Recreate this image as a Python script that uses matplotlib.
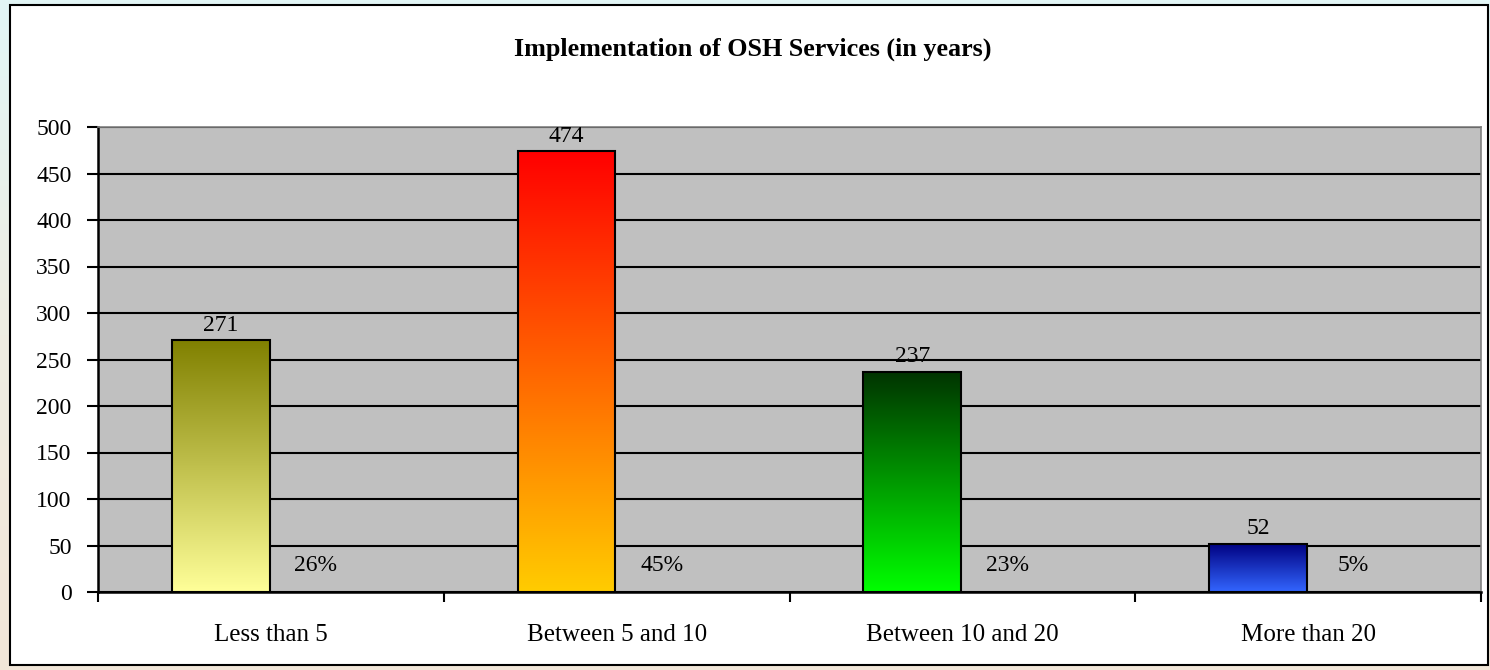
import numpy as np
import matplotlib
matplotlib.use("Agg")
import matplotlib.pyplot as plt
from matplotlib.colors import LinearSegmentedColormap
from matplotlib.patches import Rectangle

categories = ["Less than 5", "Between 5 and 10", "Between 10 and 20", "More than 20"]
counts = [271, 474, 237, 52]
percents = ["26%", "45%", "23%", "5%"]
title = "Implementation of OSH Services (in years)"

# top / bottom colour of each gradient bar
grad_colors = [("#808000", "#FFFF99"),
               ("#FF0000", "#FFCC00"),
               ("#003300", "#00FF00"),
               ("#000080", "#3366FF")]

plt.rcParams['font.family'] = ['Liberation Serif', 'DejaVu Serif']
FS = 17

W, H = 1490, 670
fig = plt.figure(figsize=(W / 100, H / 100), dpi=100)

# outer background gradient
bg = fig.add_axes([0, 0, 1, 1], zorder=-10)
bg_cmap = LinearSegmentedColormap.from_list("bg", ["#E2F6F6", "#EFEDE2", "#F2E6D8"])
bg.imshow(np.linspace(0, 1, 256).reshape(-1, 1), cmap=bg_cmap, aspect='auto',
          extent=[0, 1, 0, 1])
bg.set_xlim(0, 1)
bg.set_ylim(0, 1)
bg.axis('off')
# white chart box
bg.add_patch(Rectangle((10 / W, 5 / H), 1478 / W, 660 / H, transform=bg.transAxes,
                       facecolor='white', edgecolor='black', lw=1.5, zorder=5))

ax = fig.add_axes([98 / W, 78 / H, 1383 / W, 465 / H], zorder=1)
ax.set_facecolor('#C0C0C0')

x = np.arange(len(categories))
bar_w = 0.283
bar_x = x - 0.145
bars = ax.bar(bar_x, counts, width=bar_w, facecolor='none', edgecolor='black',
              linewidth=1.5, zorder=4)

for b, (top_c, bot_c) in zip(bars, grad_colors):
    cmap = LinearSegmentedColormap.from_list("g", [bot_c, top_c])
    bx, by = b.get_x(), b.get_y()
    bw, bh = b.get_width(), b.get_height()
    im = ax.imshow(np.linspace(0, 1, 256).reshape(-1, 1), cmap=cmap, origin='lower',
                   aspect='auto', extent=[bx, bx + bw, by, by + bh], zorder=3)
    im.set_clip_path(b)

for xi, v in zip(bar_x, counts):
    ax.annotate(str(v), (xi, v), xytext=(0, 3), textcoords='offset points',
                ha='center', va='bottom', fontsize=FS, zorder=6)

for xi, p in zip(x, percents):
    ax.text(xi + 0.13, 29, p, ha='center', va='center', fontsize=FS, zorder=6)

ax.set_xlim(-0.5, len(categories) - 0.5)
ax.set_ylim(0, 500)
ax.set_yticks(np.arange(0, 501, 50))
ax.yaxis.grid(True, color='black', lw=1.5)
ax.set_axisbelow(True)
ax.tick_params(axis='y', direction='out', length=8, width=1.5, labelsize=FS, pad=11)

ax.set_xticks(x)
ax.set_xticklabels(categories, fontsize=18)
ax.set_xticks(np.arange(-0.5, len(categories), 1), minor=True)
ax.tick_params(axis='x', which='major', length=0, pad=23)
ax.tick_params(axis='x', which='minor', direction='out', length=7, width=1.5)

for s in ['left', 'bottom']:
    ax.spines[s].set_color('black')
    ax.spines[s].set_linewidth(1.8)
for s in ['top', 'right']:
    ax.spines[s].set_color('#808080')
    ax.spines[s].set_linewidth(1.2)

fig.text(753 / W, 1 - 49 / H, title, ha='center', va='center', fontsize=18.8,
         fontweight='bold')

fig.savefig("out.png", dpi=100)
